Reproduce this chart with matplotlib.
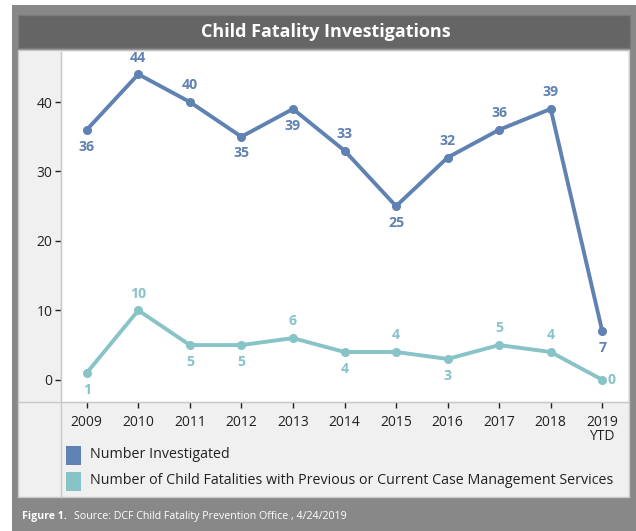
import matplotlib
matplotlib.use("Agg")
import matplotlib.pyplot as plt
from matplotlib.patches import Rectangle
from matplotlib.lines import Line2D

plt.rcParams['font.family'] = ['Open Sans', 'DejaVu Sans']

years = ['2009', '2010', '2011', '2012', '2013', '2014', '2015', '2016', '2017', '2018', '2019\nYTD']
investigated = [36, 44, 40, 35, 39, 33, 25, 32, 36, 39, 7]
prior_services = [1, 10, 5, 5, 6, 4, 4, 3, 5, 4, 0]
# where each value label sits relative to its point
inv_pos = ['below', 'above', 'above', 'below', 'below', 'above', 'below', 'above', 'above', 'above', 'below']
prior_pos = ['below', 'above', 'below', 'below', 'above', 'below', 'above', 'below', 'above', 'above', 'right']

series_names = ['Number Investigated',
                'Number of Child Fatalities with Previous or Current Case Management Services']
blue = '#5f82b2'
teal = '#88c3c8'

W, H = 636, 531
fig = plt.figure(figsize=(W / 100, H / 100), dpi=100)


def fx(px):
    return px / W


def fy(py):
    return 1 - py / H


def box(x1, y1, x2, y2, **kw):
    fig.patches.append(Rectangle((fx(x1), fy(y2)), fx(x2) - fx(x1), fy(y1) - fy(y2),
                                 transform=fig.transFigure, **kw))


# frame, title bar, inner panel (kept under the axes)
box(12, 5, 636, 531, facecolor='#888888', edgecolor='none', zorder=-3)
box(18, 15, 630, 48, facecolor='#656565', edgecolor='#7a7a7a', lw=1, zorder=-2)
box(18, 50, 629, 497, facecolor='#f0f0f0', edgecolor='#c8c8c8', lw=1, zorder=-2)
fig.text(fx(326), fy(32), 'Child Fatality Investigations', color='white', fontsize=13,
         fontweight='bold', ha='center', va='center')
fig.text(fx(22), fy(517), 'Figure 1.', color='white', fontsize=7.6, fontweight='bold',
         ha='left', va='center')
fig.text(fx(74), fy(517), 'Source: DCF Child Fatality Prevention Office , 4/24/2019',
         color='white', fontsize=7.7, ha='left', va='center')

ax = fig.add_axes([fx(61), fy(402), fx(628) - fx(61), fy(52) - fy(402)])
ax.set_facecolor('white')
x = list(range(len(years)))
ax.plot(x, investigated, color=blue, lw=2.8, marker='o', ms=5.5, solid_capstyle='round')
ax.plot(x, prior_services, color=teal, lw=2.8, marker='o', ms=5.5, solid_capstyle='round')

offsets = {'above': (0, 7, 'center', 'bottom'), 'below': (0, -7, 'center', 'top'),
           'right': (4, 0, 'left', 'center')}
for vals, pos, c in [(investigated, inv_pos, blue), (prior_services, prior_pos, teal)]:
    for xi, v, p in zip(x, vals, pos):
        dx, dy, ha, va = offsets[p]
        ax.annotate(str(v), (xi, v), xytext=(dx, dy), textcoords='offset points',
                    ha=ha, va=va, color=c, fontsize=10.2, fontweight='bold')

ax.set_xlim(-0.5, 10.5)
ax.set_ylim(-3.2, 47.2)
ax.set_yticks([0, 10, 20, 30, 40])
ax.set_xticks(x)
ax.set_xticklabels(years, linespacing=0.95)
for s in ['top', 'right']:
    ax.spines[s].set_visible(False)
ax.spines['left'].set_color('#c8c8c8')
ax.spines['bottom'].set_color('#c8c8c8')
ax.tick_params(axis='y', length=4, width=1, color='#222222', labelsize=10, labelcolor='#222222', pad=2)
ax.tick_params(axis='x', length=4, width=1, color='#222222', labelsize=10, labelcolor='#222222', pad=5)

# axis divider lines running through the panel
fig.lines.append(Line2D([fx(61), fx(61)], [fy(52), fy(497)], transform=fig.transFigure,
                        color='#c8c8c8', lw=1))
fig.lines.append(Line2D([fx(18), fx(628)], [fy(402), fy(402)], transform=fig.transFigure,
                        color='#c8c8c8', lw=1))

# legend
for name, c, ly in [(series_names[0], blue, 455), (series_names[1], teal, 481)]:
    box(66, ly - 9, 81, ly + 10, facecolor=c, edgecolor='none', zorder=-1)
    fig.text(fx(90), fy(ly), name, color='#222222', fontsize=10.3, ha='left', va='center')

fig.savefig('out.png', dpi=100)
